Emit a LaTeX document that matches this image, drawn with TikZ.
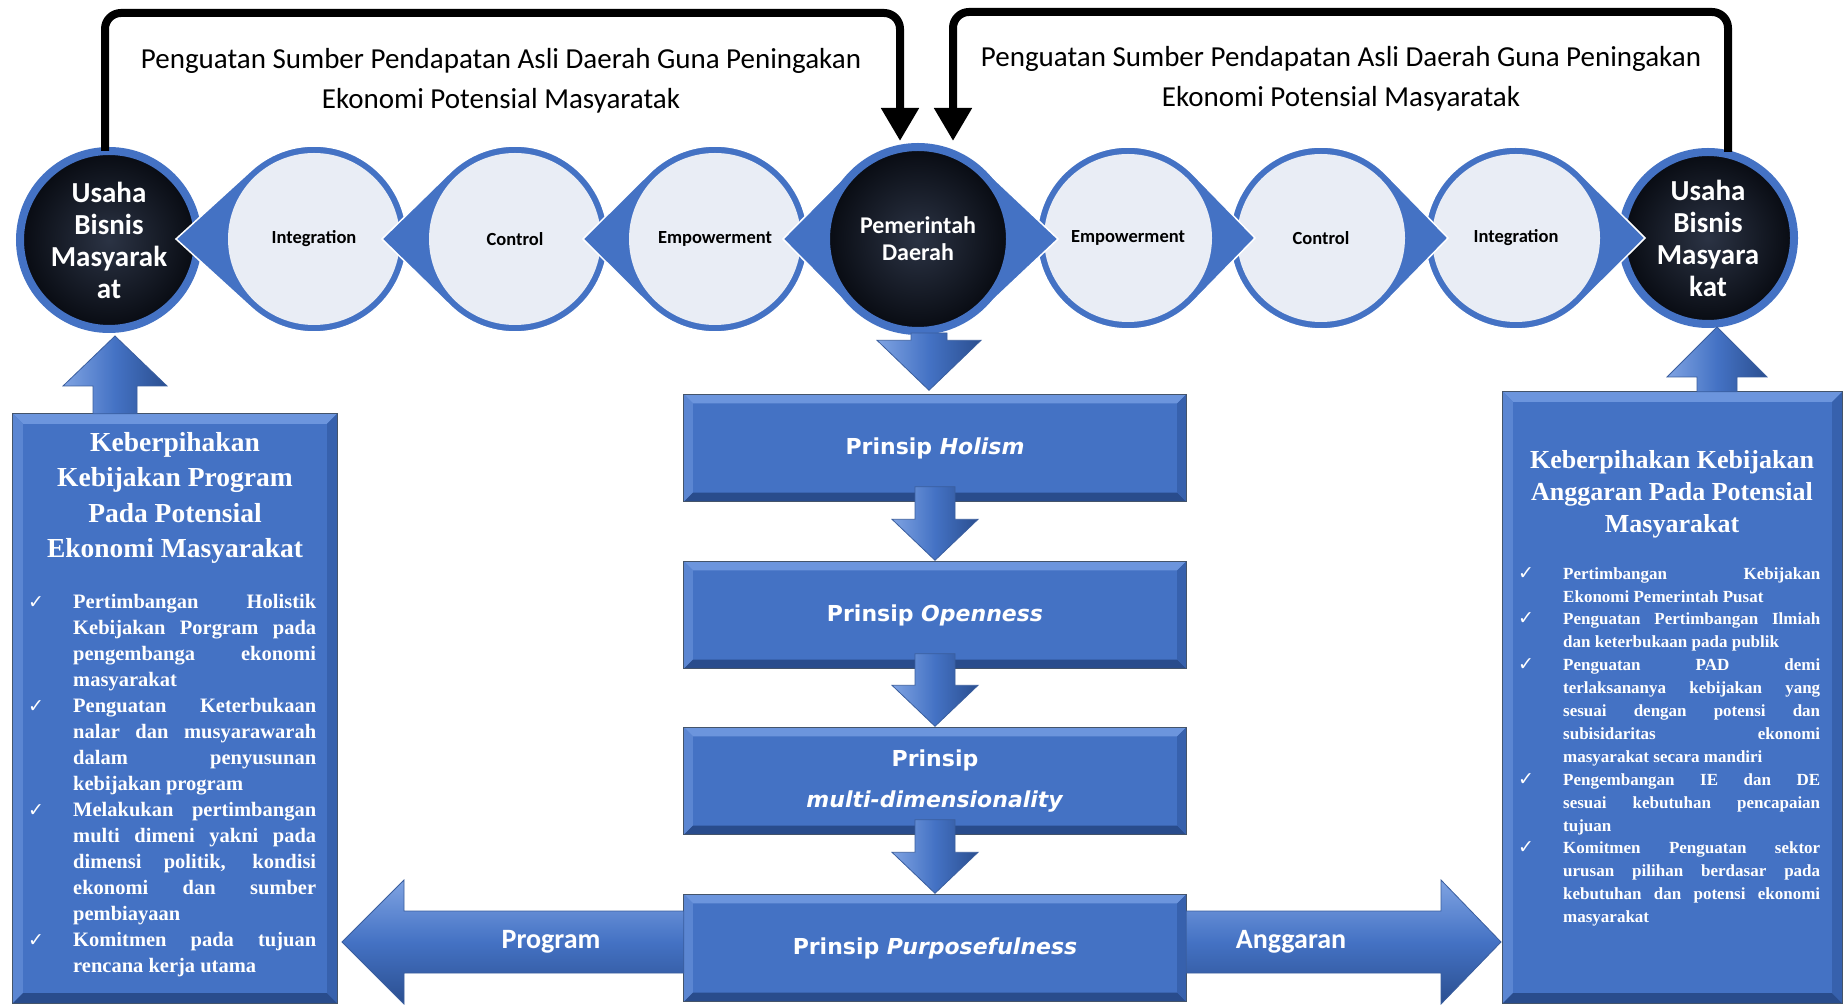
\documentclass[tikz,border=0pt]{standalone}
\usepackage{fontspec}
\setmainfont{Liberation Serif}
\newfontfamily\calfont{Carlito}
\newfontfamily\verdfont{DejaVu Sans}
\newfontfamily\symfont{DejaVu Sans}
\usetikzlibrary{calc,arrows.meta}

\definecolor{sablue}{HTML}{4472C4}
\definecolor{salight}{HTML}{E9EDF5}
\definecolor{darkin}{HTML}{2B3344}
\definecolor{darkout}{HTML}{080B12}
\definecolor{bvtop}{HTML}{6C95DD}
\definecolor{bvleft}{HTML}{5B86D2}
\definecolor{bvright}{HTML}{3761AD}
\definecolor{bvbot}{HTML}{294C8C}
\definecolor{bvline}{HTML}{44546A}
\definecolor{arlight}{HTML}{7FA3E2}
\definecolor{ardark}{HTML}{2B4F90}
\definecolor{arline}{HTML}{3A5E9E}

\newcommand{\chkmk}{\makebox[45pt][l]{\symfont\mdseries\upshape\fontsize{19}{19}\selectfont ✓}}
\newcommand{\chkgap}{\hspace*{45pt}}
\newcommand{\jline}[2]{\makebox[#1][s]{#2}}

% #1 centre coordinate, #2 outer radius, #3 signed tip distance, #4 direction angle
\newcommand{\teardrop}[4]{%
  \pgfmathsetmacro{\tdang}{acos(#2/abs(#3))}%
  \filldraw[sablue, draw=white, line width=1.5pt] ($(#1)+(#3,0)$) --
    ($(#1)+({#4+\tdang}:#2pt)$) arc[start angle=#4+\tdang, end angle=#4+360-\tdang, radius=#2pt] -- cycle;
}
% #1 start, #2 tip, #3 shaft half width, #4 head half width, #5 head length, #6 style
\newcommand{\blockarrow}[6]{%
  \coordinate (bahead) at ($(#2)!#5pt!(#1)$);
  \path[#6, draw=arline, line width=0.8pt]
    ($(#1)!#3pt!90:(#2)$) -- ($(bahead)!#3pt!90:(#2)$) -- ($(bahead)!#4pt!90:(#2)$) -- (#2)
    -- ($(bahead)!#4pt!-90:(#2)$) -- ($(bahead)!#3pt!-90:(#2)$) -- ($(#1)!#3pt!-90:(#2)$) -- cycle;
}
% #1 node name, #2 bevel depth
\newcommand{\bevel}[2]{%
  \fill[bvtop] (#1.north west) -- (#1.north east) -- ($(#1.north east)+(-#2,-#2)$) -- ($(#1.north west)+(#2,-#2)$) -- cycle;
  \fill[bvleft] (#1.north west) -- ($(#1.north west)+(#2,-#2)$) -- ($(#1.south west)+(#2,#2)$) -- (#1.south west) -- cycle;
  \fill[bvbot] (#1.south west) -- (#1.south east) -- ($(#1.south east)+(-#2,#2)$) -- ($(#1.south west)+(#2,#2)$) -- cycle;
  \fill[bvright] (#1.north east) -- (#1.south east) -- ($(#1.south east)+(-#2,#2)$) -- ($(#1.north east)+(-#2,-#2)$) -- cycle;
  \draw[bvline, line width=1.2pt] (#1.north west) rectangle (#1.south east);
}

\tikzset{
  lightcirc/.style={circle, fill=salight, inner sep=0pt, minimum size=#1,
    font=\calfont\bfseries\fontsize{18.5}{22}\selectfont, text=black},
  darkcirc/.style={circle, inner sep=0pt, minimum size=#1, draw=sablue, line width=8pt,
    inner color=darkin, outer color=darkout},
  darktext/.style={text=white, align=center, font=\calfont\bfseries\fontsize{29}{32}\selectfont},
  bevbox/.style={rectangle, fill=sablue, inner sep=0pt},
  prinsip/.style={text=white, align=center, font=\verdfont\bfseries\fontsize{22}{41}\selectfont},
  toptext/.style={align=center, text=black, font=\calfont\fontsize{29}{40}\selectfont},
  arrowlabel/.style={text=white, font=\calfont\bfseries\fontsize{28}{30}\selectfont},
  looparrow/.style={line width=8pt, rounded corners=16pt, -{Triangle[width=36pt,length=33pt]}},
  boxtitle/.style={text=white, align=center, inner sep=0pt},
  bultext/.style={text=white, align=left, inner sep=0pt},
  vshade/.style={left color=arlight, right color=ardark, middle color=sablue},
  hshade/.style={top color=arlight, bottom color=ardark, middle color=sablue},
}

\begin{document}
\begin{tikzpicture}[x=1pt,y=1pt]
\useasboundingbox (0,0) rectangle (1843,1004);
\fill[white] (0,0) rectangle (1843,1004);

% centres of the circle chain
\coordinate (cUL) at (109,764);
\coordinate (cIL) at (314,765);
\coordinate (cCL) at (515,765);
\coordinate (cEL) at (715,765);
\coordinate (cPem) at (918,765);
\coordinate (cER) at (1128,766);
\coordinate (cCR) at (1321,766);
\coordinate (cIR) at (1516,766);
\coordinate (cUR) at (1708,766);

% end circles
\node[darkcirc=178, darktext] (usL) at (cUL) {Usaha\\Bisnis\\Masyarak\\at};
\node[darkcirc=172, darktext] (usR) at (cUR) {Usaha\\Bisnis\\Masyara\\kat};

% left chain (pointing left)
\teardrop{cIL}{93}{-138}{180}
\node[lightcirc=172] (IL) at (cIL) {Integration};
\teardrop{cCL}{93}{-133}{180}
\node[lightcirc=172] (CL) at (cCL) {Control};
\teardrop{cEL}{93}{-132}{180}
\node[lightcirc=172] (EL) at (cEL) {Empowerment};

% right chain (pointing right)
\teardrop{cIR}{91}{129}{0}
\node[lightcirc=168] (IR) at (cIR) {Integration};
\teardrop{cCR}{91}{127}{0}
\node[lightcirc=168] (CR) at (cCR) {Control};
\teardrop{cER}{91}{127}{0}
\node[lightcirc=168] (ER) at (cER) {Empowerment};

% centre circle with two tips
\pgfmathsetmacro{\pemL}{acos(96/135)}
\pgfmathsetmacro{\pemR}{acos(96/140)}
\filldraw[sablue, draw=white, line width=1.5pt] ($(cPem)+(-135,0)$) --
  ($(cPem)+({180+\pemL}:96pt)$) arc[start angle=180+\pemL, end angle=360-\pemR, radius=96pt] --
  ($(cPem)+(140,0)$) --
  ($(cPem)+({\pemR}:96pt)$) arc[start angle=\pemR, end angle=180-\pemL, radius=96pt] -- cycle;
\node[darkcirc=184, darktext, font=\calfont\bfseries\fontsize{24}{27}\selectfont] (pem) at (cPem) {Pemerintah\\Daerah};

% loop arrows
\coordinate (topL) at (0,991);
\coordinate (topR) at (0,992);
\coordinate (loopLs) at ($(usL.north)+(-4,-4)$);
\coordinate (loopLe) at ($(pem.north)+(-18,2)$);
\draw[looparrow] (loopLs) -- (loopLs |- topL) -- (loopLe |- topL) -- (loopLe);
\coordinate (loopRs) at ($(usR.north)+(20,-4)$);
\coordinate (loopRe) at ($(pem.north)+(35,2)$);
\draw[looparrow] (loopRs) -- (loopRs |- topR) -- (loopRe |- topR) -- (loopRe);

\node[toptext] (txtL) at (501,923) {Penguatan Sumber Pendapatan Asli Daerah Guna Peningakan\\Ekonomi Potensial Masyaratak};
\node[toptext] (txtR) at (1341,925) {Penguatan Sumber Pendapatan Asli Daerah Guna Peningakan\\Ekonomi Potensial Masyaratak};

% principle boxes
\node[bevbox, prinsip, minimum width=502pt, minimum height=107pt] (holism) at (935,556) {Prinsip \textit{Holism}};
\bevel{holism}{9}
\node[bevbox, prinsip, minimum width=502pt, minimum height=107pt] (openness) at (935,389) {Prinsip \textit{Openness}};
\bevel{openness}{9}
\node[bevbox, prinsip, minimum width=502pt, minimum height=107pt] (multi) at (935,223) {Prinsip\\\textit{multi-dimensionality}};
\bevel{multi}{9}
\node[bevbox, prinsip, minimum width=502pt, minimum height=107pt] (purpose) at (935,56) {Prinsip \textit{Purposefulness}};
\bevel{purpose}{9}

% vertical flow arrows
\coordinate (d0S) at ($(pem.south)+(11,2)$);
\coordinate (d0T) at ($(d0S |- holism.north)+(0,4)$);
\blockarrow{d0S}{d0T}{18}{52}{50}{vshade}
\coordinate (d1S) at ($(holism.south)+(0,15)$);
\coordinate (d1T) at ($(openness.north)+(0,1)$);
\blockarrow{d1S}{d1T}{20}{43}{41}{vshade}
\coordinate (d2S) at ($(openness.south)+(0,15)$);
\coordinate (d2T) at ($(multi.north)+(0,1)$);
\blockarrow{d2S}{d2T}{20}{43}{41}{vshade}
\coordinate (d3S) at ($(multi.south)+(0,15)$);
\coordinate (d3T) at ($(purpose.north)+(0,1)$);
\blockarrow{d3S}{d3T}{20}{43}{41}{vshade}

% side boxes
\node[bevbox, minimum width=324pt, minimum height=589pt] (lbox) at (175,295.5) {};
\bevel{lbox}{10}
\node[bevbox, minimum width=339pt, minimum height=611pt] (rbox) at (1672.5,306.5) {};
\bevel{rbox}{10}

% horizontal arrows
\coordinate (pgS) at ($(purpose.west)+(0,6)$);
\coordinate (pgT) at (342,62);
\blockarrow{pgS}{pgT}{31}{62}{62}{hshade}
\coordinate (agS) at ($(purpose.east)+(0,6)$);
\coordinate (agT) at (1501,62);
\blockarrow{agS}{agT}{31}{62}{60}{hshade}
\node[arrowlabel] (proglbl) at (551,62) {Program};
\node[arrowlabel] (anglbl) at (1291,62) {Anggaran};

% up arrows into end circles
\coordinate (lupT) at ($(usL.south)+(6,-3)$);
\coordinate (lupS) at (lupT |- lbox.north);
\blockarrow{lupS}{lupT}{22}{52}{50}{vshade}
\coordinate (rupT) at ($(usR.south)+(9,1)$);
\coordinate (rupS) at (rupT |- rbox.north);
\blockarrow{rupS}{rupT}{20}{50}{50}{vshade}

% left box text
\node[boxtitle, anchor=north, font=\bfseries\fontsize{27.5}{35.5}\selectfont] (ltitle) at (175,572)
  {Keberpihakan\\Kebijakan Program\\Pada Potensial\\Ekonomi Masyarakat};
\node[bultext, anchor=north west, font=\bfseries\fontsize{20.5}{26}\selectfont] (lbul) at (28,410) {%
\chkmk\jline{243pt}{Pertimbangan Holistik}\\
\chkgap\jline{243pt}{Kebijakan Porgram pada}\\
\chkgap\jline{243pt}{pengembanga ekonomi}\\
\chkgap masyarakat\\
\chkmk\jline{243pt}{Penguatan Keterbukaan}\\
\chkgap\jline{243pt}{nalar dan musyarawarah}\\
\chkgap\jline{243pt}{dalam penyusunan}\\
\chkgap kebijakan program\\
\chkmk\jline{243pt}{Melakukan pertimbangan}\\
\chkgap\jline{243pt}{multi dimeni yakni pada}\\
\chkgap\jline{243pt}{dimensi politik, kondisi}\\
\chkgap\jline{243pt}{ekonomi dan sumber}\\
\chkgap pembiayaan\\
\chkmk\jline{243pt}{Komitmen pada tujuan}\\
\chkgap rencana kerja utama};

% right box text
\node[boxtitle, anchor=north, font=\bfseries\fontsize{26}{32}\selectfont] (rtitle) at (1672,554)
  {Keberpihakan Kebijakan\\Anggaran Pada Potensial\\Masyarakat};
\node[bultext, anchor=north west, font=\bfseries\fontsize{17}{22.9}\selectfont] (rbul) at (1518,437) {%
\chkmk\jline{257pt}{Pertimbangan Kebijakan}\\
\chkgap Ekonomi Pemerintah Pusat\\
\chkmk\jline{257pt}{Penguatan Pertimbangan Ilmiah}\\
\chkgap dan keterbukaan pada publik\\
\chkmk\jline{257pt}{Penguatan PAD demi}\\
\chkgap\jline{257pt}{terlaksananya kebijakan yang}\\
\chkgap\jline{257pt}{sesuai dengan potensi dan}\\
\chkgap\jline{257pt}{subisidaritas ekonomi}\\
\chkgap masyarakat secara mandiri\\
\chkmk\jline{257pt}{Pengembangan IE dan DE}\\
\chkgap\jline{257pt}{sesuai kebutuhan pencapaian}\\
\chkgap tujuan\\
\chkmk\jline{257pt}{Komitmen Penguatan sektor}\\
\chkgap\jline{257pt}{urusan pilihan berdasar pada}\\
\chkgap\jline{257pt}{kebutuhan dan potensi ekonomi}\\
\chkgap masyarakat};
\end{tikzpicture}
\end{document}
